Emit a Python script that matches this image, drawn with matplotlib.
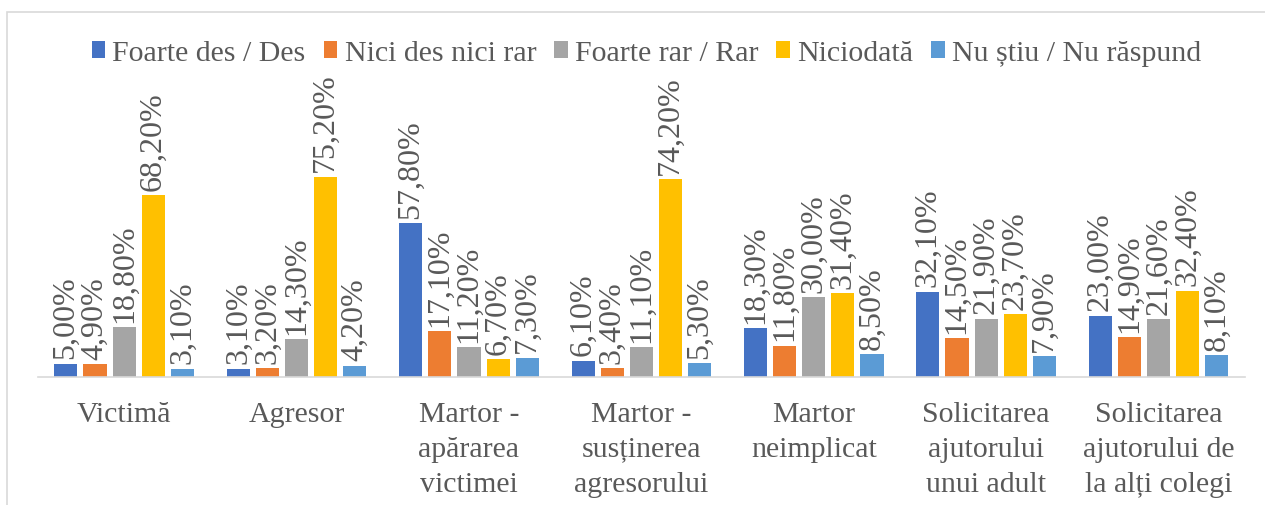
from matplotlib import pyplot as plt
from matplotlib.patches import Rectangle
import numpy as np

categories = ["Victimă", "Agresor", "Martor -\napărarea\nvictimei",
              "Martor -\nsusținerea\nagresorului", "Martor\nneimplicat",
              "Solicitarea\najutorului\nunui adult",
              "Solicitarea\najutorului de\nla alți colegi"]
series_names = ["Foarte des / Des", "Nici des nici rar", "Foarte rar / Rar",
                "Niciodată", "Nu știu / Nu răspund"]
foarte_des = [5.0, 3.1, 57.8, 6.1, 18.3, 32.1, 23.0]
nici_des = [4.9, 3.2, 17.1, 3.4, 11.8, 14.5, 14.9]
foarte_rar = [18.8, 14.3, 11.2, 11.1, 30.0, 21.9, 21.6]
niciodata = [68.2, 75.2, 6.7, 74.2, 31.4, 23.7, 32.4]
nu_stiu = [3.1, 4.2, 7.3, 5.3, 8.5, 7.9, 8.1]

colors = ["#4472C4", "#ED7D31", "#A5A5A5", "#FFC000", "#5B9BD5"]
txt = "#595959"

plt.rcParams['font.family'] = ['Liberation Serif', 'DejaVu Serif']

fig = plt.figure(figsize=(12.65, 5.06), dpi=100)
ax = fig.add_axes([0.030, 0.253, 0.954, 0.421])

# chart area outline
fig.patches.append(Rectangle((7/1265, -0.01), 1.1, 1 - 13/506 + 0.01,
                             transform=fig.transFigure, fill=False,
                             edgecolor="#D9D9D9", linewidth=1.2))

x = np.arange(len(categories))
step = 0.169
width = 0.134
data = [foarte_des, nici_des, foarte_rar, niciodata, nu_stiu]
for i, (vals, name, c) in enumerate(zip(data, series_names, colors)):
	pos = x + (i - 2) * step
	ax.bar(pos, vals, width, color=c, label=name)
	for px, v in zip(pos, vals):
		ax.text(px, v + 2.0, ("%.2f%%" % v).replace(".", ","),
		        rotation=90, ha="center", va="bottom", fontsize=23,
		        color=txt, clip_on=False)

ax.set_xlim(-0.5, 6.5)
ax.set_ylim(0, 80)
for s in ["top", "right", "left"]:
	ax.spines[s].set_visible(False)
ax.spines["bottom"].set_color("#D9D9D9")
ax.spines["bottom"].set_linewidth(1.2)
ax.set_yticks([])
ax.set_xticks(x)
ax.set_xticklabels(categories, fontsize=21.5, color=txt, linespacing=1.45)
ax.tick_params(axis="x", length=0, pad=17)

fig.legend(loc="center", bbox_to_anchor=(0.511, 0.893), ncol=5, frameon=False,
           fontsize=21.5, labelcolor=txt, handlelength=0.45, handleheight=0.45,
           handletextpad=0.25, columnspacing=0.6)

fig.savefig("out.png", dpi=100)
